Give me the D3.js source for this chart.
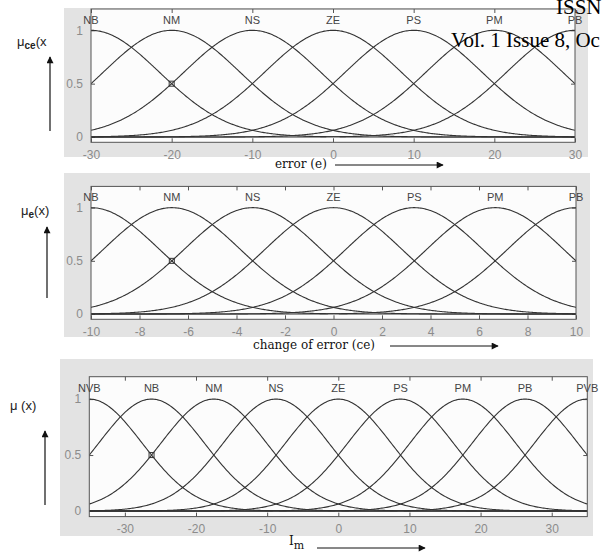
<!DOCTYPE html>
<html lang="en">
<head>
    <title>Membership functions</title>
    <script src="https://d3js.org/d3.v7.min.js"></script>
    <style>
        body { margin: 0; background: #fff; }
        .tick text { fill: #8c8c8c; font-family: "Liberation Sans", Arial, sans-serif; font-size: 12px; }
        .tick line { stroke: #555; }
        .domain { stroke: none; }
        .mf { fill: none; stroke: #333; stroke-width: 1.1; }
        .mflabel { fill: #444; font-family: "Liberation Sans", Arial, sans-serif; font-size: 11px; }
        .xlab { font-family: "DejaVu Serif", serif; font-size: 12px; fill: #111; }
        .ylab { font-family: "Liberation Sans", Arial, sans-serif; font-size: 13px; fill: #222; }
        .stamp { font-family: "Liberation Serif", "Times New Roman", serif; font-size: 21px; fill: #000; }
    </style>
</head>
<body>

<script>
    // panel 1 : error (e)
    const errNames = ["NB", "NM", "NS", "ZE", "PS", "PM", "PB"];
    const errCenters = [-30, -20, -10, 0, 10, 20, 30];
    const errSigma = 8.49;
    const errTicks = [-30, -20, -10, 0, 10, 20, 30];

    // panel 2 : change of error (ce)
    const ceNames = ["NB", "NM", "NS", "ZE", "PS", "PM", "PB"];
    const ceCenters = [-10, -6.667, -3.333, 0, 3.333, 6.667, 10];
    const ceSigma = 2.83;
    const ceTicks = [-10, -8, -6, -4, -2, 0, 2, 4, 6, 8, 10];

    // panel 3 : Im
    const imNames = ["NVB", "NB", "NM", "NS", "ZE", "PS", "PM", "PB", "PVB"];
    const imCenters = [-35, -26.25, -17.5, -8.75, 0, 8.75, 17.5, 26.25, 35];
    const imSigma = 7.43;
    const imTicks = [-30, -20, -10, 0, 10, 20, 30];

    const yTicks = [0, 0.5, 1];

    const panels = [
        {names: errNames, centers: errCenters, sigma: errSigma, ticks: errTicks, domain: [-30, 30],
         bg: [64, 8, 524, 149], plot: [91, 9, 575, 142.3], arrowX: 50, arrowY: [131, 57],
         ylab: {x: 17, y: 46, sub: "ce", rest: "(x"},
         xlab: {x: 275, y: 168, text: "error (e)", sub: null, ax: [335, 443], ay: 165}},
        {names: ceNames, centers: ceCenters, sigma: ceSigma, ticks: ceTicks, domain: [-10, 10],
         bg: [64, 173, 526, 164], plot: [91, 186.4, 576, 319.3], arrowX: 47, arrowY: [298, 227],
         ylab: {x: 21, y: 215, sub: "e", rest: "(x)"},
         xlab: {x: 253, y: 349, text: "change of error (ce)", sub: null, ax: [390, 498], ay: 346}},
        {names: imNames, centers: imCenters, sigma: imSigma, ticks: imTicks, domain: [-35, 35],
         bg: [60, 359, 533, 177], plot: [89.3, 376.7, 587.3, 516.6], arrowX: 45, arrowY: [505, 431],
         ylab: {x: 10, y: 410, sub: null, rest: " (x)"},
         xlab: {x: 289, y: 545, text: "I", sub: "m", ax: [317, 425], ay: 548}}
    ];

    const svg = d3.select("body").append("svg").attr("width", 602).attr("height", 555);

    const defs = svg.append("defs");
    defs.append("marker").attr("id", "head")
        .attr("viewBox", "0 0 10 10").attr("refX", 9).attr("refY", 5)
        .attr("markerWidth", 9).attr("markerHeight", 7).attr("markerUnits", "userSpaceOnUse")
        .attr("orient", "auto")
        .append("path").attr("d", "M0,0L10,5L0,10Z").attr("fill", "#111");

    const gauss = (x, c, s) => Math.exp(-((x - c) * (x - c)) / (2 * s * s));

    panels.forEach((p, pi) => {
        const [x0, y0, x1, y1] = p.plot;
        const x = d3.scaleLinear().domain(p.domain).range([x0, x1]);
        const y = d3.scaleLinear().domain([-0.05, 1.2]).range([y1, y0]);

        svg.append("rect").attr("x", p.bg[0]).attr("y", p.bg[1])
            .attr("width", p.bg[2]).attr("height", p.bg[3]).attr("fill", "#e3e3e3");
        svg.append("rect").attr("x", x0).attr("y", y0)
            .attr("width", x1 - x0).attr("height", y1 - y0).attr("fill", "#fcfcfc");

        svg.append("clipPath").attr("id", "clip" + pi)
            .append("rect").attr("x", x0).attr("y", y0).attr("width", x1 - x0).attr("height", y1 - y0);

        // axes, ticks pointing inwards like the matlab plot
        svg.append("g").attr("transform", `translate(0,${y1})`)
            .call(d3.axisBottom(x).tickValues(p.ticks).tickSize(-4).tickPadding(8).tickFormat(d => String(d)));
        svg.append("g").attr("transform", `translate(0,${y0})`)
            .call(d3.axisTop(x).tickValues(p.ticks).tickSize(-4).tickFormat(""));
        svg.append("g").attr("transform", `translate(${x0},0)`)
            .call(d3.axisLeft(y).tickValues(yTicks).tickSize(-4).tickPadding(8).tickFormat(d => String(d)));
        svg.append("g").attr("transform", `translate(${x1},0)`)
            .call(d3.axisRight(y).tickValues(yTicks).tickSize(-4).tickFormat(""));

        const step = (p.domain[1] - p.domain[0]) / 400;
        const xs = d3.range(p.domain[0], p.domain[1] + step / 2, step);
        const line = d3.line().x(d => x(d[0])).y(d => y(d[1]));

        const g = svg.append("g").attr("clip-path", `url(#clip${pi})`);
        g.selectAll("path.mf").data(p.centers).enter().append("path")
            .attr("class", "mf")
            .attr("d", c => line(xs.map(v => [v, gauss(v, c, p.sigma)])));

        svg.append("rect").attr("x", x0).attr("y", y0)
            .attr("width", x1 - x0).attr("height", y1 - y0)
            .attr("fill", "none").attr("stroke", "#555").attr("stroke-width", 1);

        svg.selectAll(null).data(p.names).enter().append("text")
            .attr("class", "mflabel").attr("text-anchor", "middle")
            .attr("x", (d, i) => x(p.centers[i])).attr("y", y(1.1)).attr("dy", "0.36em")
            .text(d => d);

        // little square where the first mf crosses 0.5
        svg.append("rect")
            .attr("x", x(p.centers[1]) - 2.5).attr("y", y(gauss(p.centers[1], p.centers[0], p.sigma)) - 2.5)
            .attr("width", 5).attr("height", 5).attr("fill", "none").attr("stroke", "#333");

        // y label + arrow
        const yl = svg.append("text").attr("class", "ylab").attr("x", p.ylab.x).attr("y", p.ylab.y);
        yl.append("tspan").text("μ");
        if (p.ylab.sub) {
            yl.append("tspan").attr("dy", 3).attr("font-size", 10).attr("font-weight", "bold").text(p.ylab.sub);
            yl.append("tspan").attr("dy", -3).text(p.ylab.rest);
        } else {
            yl.append("tspan").text(p.ylab.rest);
        }
        svg.append("line").attr("x1", p.arrowX).attr("x2", p.arrowX)
            .attr("y1", p.arrowY[0]).attr("y2", p.arrowY[1])
            .attr("stroke", "#111").attr("stroke-width", 1.2).attr("marker-end", "url(#head)");

        // x label + arrow
        const xl = svg.append("text").attr("class", "xlab").attr("x", p.xlab.x).attr("y", p.xlab.y);
        xl.append("tspan").text(p.xlab.text);
        if (p.xlab.sub) xl.append("tspan").attr("dy", 4).attr("font-size", 11).text(p.xlab.sub);
        svg.append("line").attr("x1", p.xlab.ax[0]).attr("x2", p.xlab.ax[1])
            .attr("y1", p.xlab.ay).attr("y2", p.xlab.ay)
            .attr("stroke", "#111").attr("stroke-width", 1).attr("marker-end", "url(#head)");
    });

    // journal header bleeding over the figure
    svg.append("text").attr("class", "stamp").attr("x", 556).attr("y", 14).text("ISSN");
    svg.append("text").attr("class", "stamp").attr("x", 451).attr("y", 47).text("Vol. 1 Issue 8, Oc");
</script>

</body>
</html>
